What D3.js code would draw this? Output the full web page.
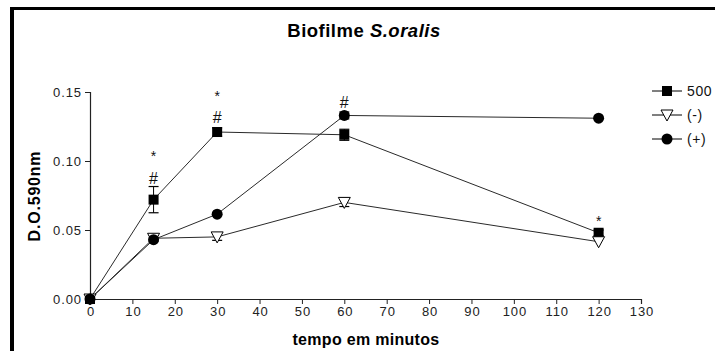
<!DOCTYPE html>
<html>
<head>
<meta charset="utf-8">
<script src="https://cdn.jsdelivr.net/npm/d3@7"></script>
<style>
  body { margin: 0; background: #fff; }
  text { font-family: "Liberation Sans", Arial, sans-serif; }
</style>
</head>
<body>
<svg id="chart" width="715" height="351"></svg>
<script>
// data
var times = [0, 15, 30, 60, 120];
var s500 = [0, 0.072, 0.121, 0.119, 0.048];
var s500err = [0, 0.0095, 0.003, 0.004, 0.002];
var sNeg = [0, 0.044, 0.045, 0.070, 0.0415];
var sNegErr = [0, 0.002, 0.0025, 0.003, 0.001];
var sPos = [0, 0.043, 0.0615, 0.133, 0.131];
var sPosErr = [0, 0.001, 0.001, 0.0025, 0.001];
var xTicks = d3.range(0, 131, 10);
var yTicks = [0, 0.05, 0.10, 0.15];
// significance marks: [time, symbol, pixels above the point]
var marks = [
  [15, "#", 22], [15, "*", 48],
  [30, "#", 15], [30, "*", 40],
  [60, "#", 13],
  [120, "*", 16]
];

var svg = d3.select("#chart");
var x = d3.scaleLinear().domain([0, 130]).range([90, 641]);
var y = d3.scaleLinear().domain([0, 0.15]).range([299, 92]);

// frame (only top and left edges show)
svg.append("rect").attr("x", 10).attr("y", 7).attr("width", 705).attr("height", 3).attr("fill", "#000");
svg.append("rect").attr("x", 10).attr("y", 7).attr("width", 4).attr("height", 344).attr("fill", "#000");

// title
var title = svg.append("text").attr("x", 364).attr("y", 37).attr("text-anchor", "middle")
  .attr("font-size", 18.5).attr("font-weight", "bold").attr("letter-spacing", 0.5);
title.append("tspan").text("Biofilme ");
title.append("tspan").attr("font-style", "italic").text("S.oralis");

// axes
var xAxis = svg.append("g").attr("transform", "translate(0,299)")
  .call(d3.axisBottom(x).tickValues(xTicks).tickSize(5).tickPadding(3).tickFormat(d3.format("d")));
var yAxis = svg.append("g").attr("transform", "translate(90,0)")
  .call(d3.axisLeft(y).tickValues(yTicks).tickSize(5).tickPadding(3).tickFormat(d3.format(".2f")));
[xAxis, yAxis].forEach(function(a) {
  a.select(".domain").attr("stroke", "#222").attr("stroke-width", 1.2);
  a.selectAll(".tick line").attr("stroke", "#222");
  a.selectAll(".tick text").attr("font-size", 13).attr("fill", "#222").attr("letter-spacing", 0.9)
    .attr("font-family", "'Liberation Sans', Arial, sans-serif");
});
xAxis.selectAll(".tick text").attr("dx", 0.5);

svg.append("text").attr("x", 366).attr("y", 345).attr("text-anchor", "middle")
  .attr("font-size", 16).attr("font-weight", "bold").attr("letter-spacing", 0.3).text("tempo em minutos");
svg.append("text").attr("transform", "translate(40,196) rotate(-90)").attr("text-anchor", "middle")
  .attr("font-size", 16).attr("font-weight", "bold").attr("letter-spacing", 0.8).text("D.O.590nm");

var series = [
  {name: "500", vals: s500, err: s500err, shape: "square"},
  {name: "(-)", vals: sNeg, err: sNegErr, shape: "triangle"},
  {name: "(+)", vals: sPos, err: sPosErr, shape: "circle"}
];

var line = d3.line().x(function(d) { return x(d[0]); }).y(function(d) { return y(d[1]); });

function drawMarker(g, shape) {
  if (shape == "square") {
    g.append("rect").attr("x", -5).attr("y", -5).attr("width", 10).attr("height", 10).attr("fill", "#000");
  } else if (shape == "circle") {
    g.append("circle").attr("r", 5.5).attr("fill", "#000");
  } else {
    g.append("path").attr("d", "M-6,-5L6,-5L0,6Z").attr("fill", "#fff").attr("stroke", "#000").attr("stroke-width", 1);
  }
}

series.forEach(function(s) {
  var pts = times.map(function(t, i) { return [t, s.vals[i]]; });
  svg.append("path").datum(pts).attr("d", line).attr("fill", "none")
    .attr("stroke", "#2a2a2a").attr("stroke-width", 1);
});

series.forEach(function(s) {
  times.forEach(function(t, i) {
    var e = s.err[i];
    if (e > 0.0015) {
      var eb = svg.append("g");
      eb.append("line").attr("x1", x(t)).attr("x2", x(t)).attr("y1", y(s.vals[i] - e)).attr("y2", y(s.vals[i] + e)).attr("stroke", "#000");
      [s.vals[i] - e, s.vals[i] + e].forEach(function(v) {
        eb.append("line").attr("x1", x(t) - 5).attr("x2", x(t) + 5).attr("y1", y(v)).attr("y2", y(v))
          .attr("stroke", "#000").attr("stroke-width", 1.2);
      });
    }
    var g = svg.append("g").attr("transform", "translate(" + x(t) + "," + y(s.vals[i]) + ")");
    drawMarker(g, s.shape);
  });
});

// significance marks above the 500 series (or (+) at 60)
marks.forEach(function(m) {
  var i = times.indexOf(m[0]);
  var base = m[0] == 60 ? sPos[i] : s500[i];
  svg.append("text").attr("x", x(m[0])).attr("y", y(base) - m[2] + (m[1] == "*" ? 9 : 6))
    .attr("text-anchor", "middle").attr("font-size", m[1] == "*" ? 14 : 16).attr("fill", "#111").text(m[1]);
});

// legend
var legend = svg.append("g").attr("transform", "translate(652,91)");
series.forEach(function(s, i) {
  var row = legend.append("g").attr("transform", "translate(0," + (i * 24) + ")");
  row.append("line").attr("x1", 0).attr("x2", 30).attr("stroke", "#000").attr("stroke-width", 1);
  var mk = row.append("g").attr("transform", "translate(15,0)");
  drawMarker(mk, s.shape);
  row.append("text").attr("x", 35).attr("y", 5).attr("font-size", 14).attr("letter-spacing", 0.6)
    .attr("fill", "#111").text(s.name);
});
</script>
</body>
</html>
